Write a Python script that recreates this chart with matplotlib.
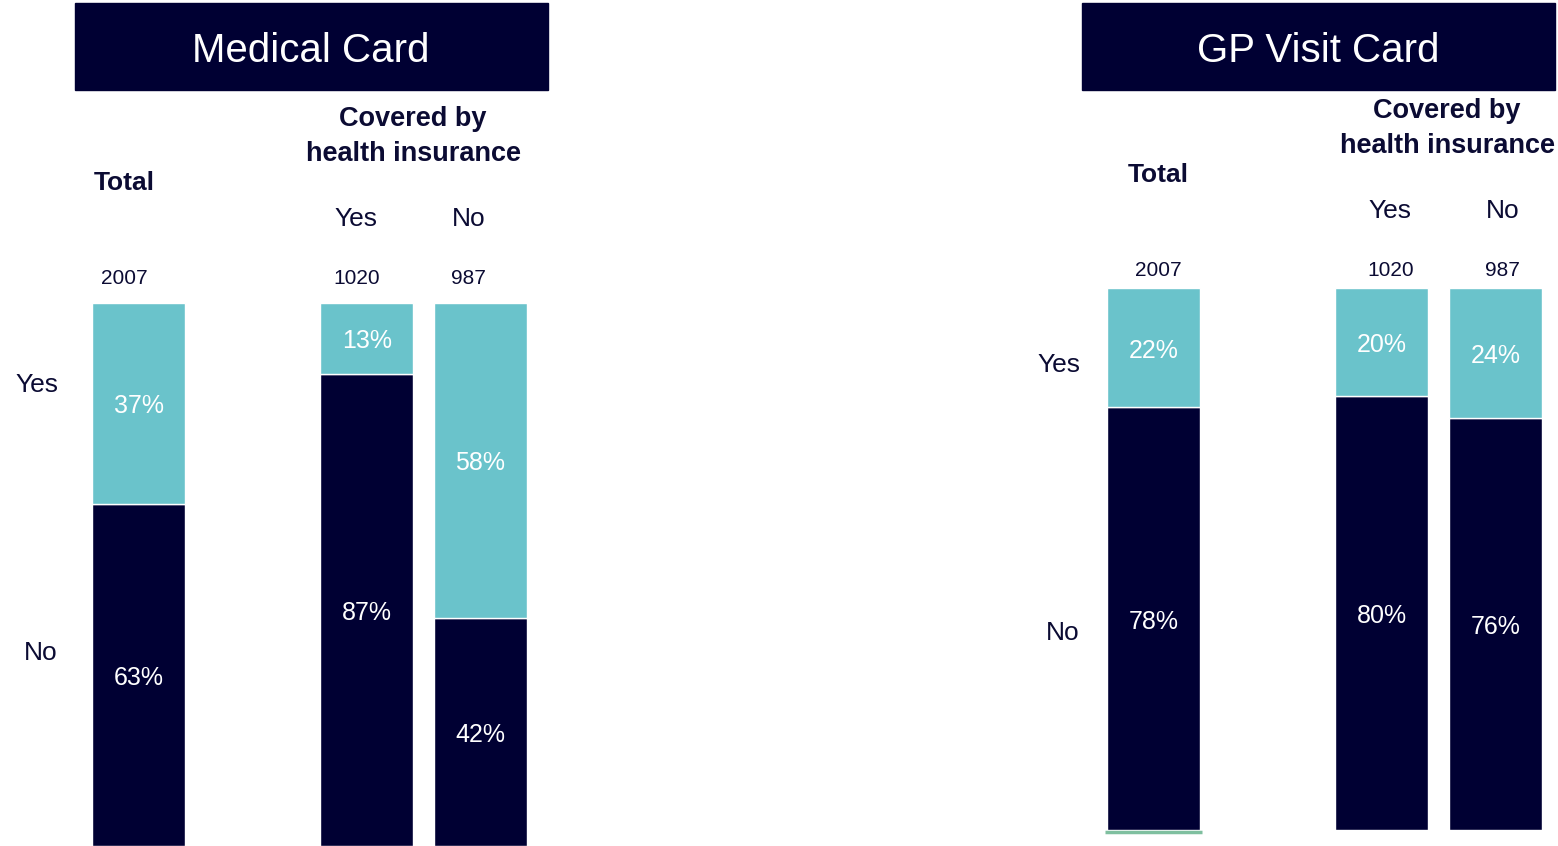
import numpy as np
import matplotlib.pyplot as plt
from matplotlib.patches import Rectangle

plt.rcParams['font.family'] = ['Liberation Sans', 'DejaVu Sans']

W, H = 1558, 846
NAVY = '#000033'
TEAL = '#6ac3cb'
TXT = '#0b0b33'

# data
groups = ['Total', 'Yes', 'No']
bases = ['2007', '1020', '987']
medical_yes = [37, 13, 58]
medical_no = [63, 87, 42]
gp_yes = [22, 20, 24]
gp_no = [78, 80, 76]

xpos = np.array([0, 2.45, 3.67])

fig = plt.figure(figsize=(W / 100, H / 100), dpi=100)


def fx(x):
    return x / W


def fy(y):
    # +3 px: bbox centring sits a bit high compared to the original
    return 1 - (y + 3) / H


def panel(bar_left, bar_top, bar_bottom, yes, no, title, box_left, dx, dy, rdx, rdy, green=False):
    ax = fig.add_axes([fx(bar_left), 1 - bar_bottom / H, 435 / W, (bar_bottom - bar_top) / H])
    ax.bar(xpos, no, width=1, color=NAVY, edgecolor='white', lw=1)
    ax.bar(xpos, yes, bottom=no, width=1, color=TEAL, edgecolor='white', lw=1)
    off = 3 * 100 / (bar_bottom - bar_top)
    for x, y, n in zip(xpos, yes, no):
        ax.text(x, n / 2 - off, f'{n}%', ha='center', va='center', color='white', fontsize=18)
        ax.text(x, n + y / 2 - off, f'{y}%', ha='center', va='center', color='white', fontsize=18)
    if green:
        ax.plot([-0.52, 0.52], [-0.4, -0.4], color='#7fbf9f', lw=2.5, clip_on=False,
                solid_capstyle='butt')
    ax.set_xlim(-0.5, xpos[-1] + 0.5)
    ax.set_ylim(0, 100)
    ax.axis('off')

    # title box
    fig.add_artist(Rectangle((fx(box_left), 1 - 90 / H), 473 / W, 87 / H,
                             transform=fig.transFigure, color=NAVY))
    fig.text(fx(box_left + 236), fy(48), title, ha='center', va='center',
             color='white', fontsize=29)

    # column headers
    fig.text(fx(413 + dx), fy(116 + dy), 'Covered by', ha='center', va='center',
             color=TXT, fontsize=19.5, fontweight='bold')
    fig.text(fx(413 + dx), fy(151 + dy), 'health insurance', ha='center', va='center',
             color=TXT, fontsize=19.5, fontweight='bold')
    fig.text(fx(124 + dx), fy(180 + dy), groups[0], ha='center', va='center',
             color=TXT, fontsize=19, fontweight='bold')
    fig.text(fx(356 + dx), fy(216 + dy), groups[1], ha='center', va='center',
             color=TXT, fontsize=19)
    fig.text(fx(469 + dx), fy(216 + dy), groups[2], ha='center', va='center',
             color=TXT, fontsize=19)
    for xb, b in zip([124, 357, 468], bases):
        fig.text(fx(xb + dx), fy(275 + dy), b, ha='center', va='center',
                 color=TXT, fontsize=15)

    # row labels
    fig.text(fx(58 + rdx), fy(382 + rdy), 'Yes', ha='right', va='center', color=TXT, fontsize=19)
    fig.text(fx(58 + rdx), fy(650 + rdy), 'No', ha='right', va='center', color=TXT, fontsize=19)


panel(92, 303, 846, medical_yes, medical_no, 'Medical Card', 75, 0, 0, 0, 0)
panel(1107, 288, 830, gp_yes, gp_no, 'GP Visit Card', 1082, 1034, -8, 1022, -20, green=True)

fig.savefig('out.png', dpi=100, facecolor='white')
